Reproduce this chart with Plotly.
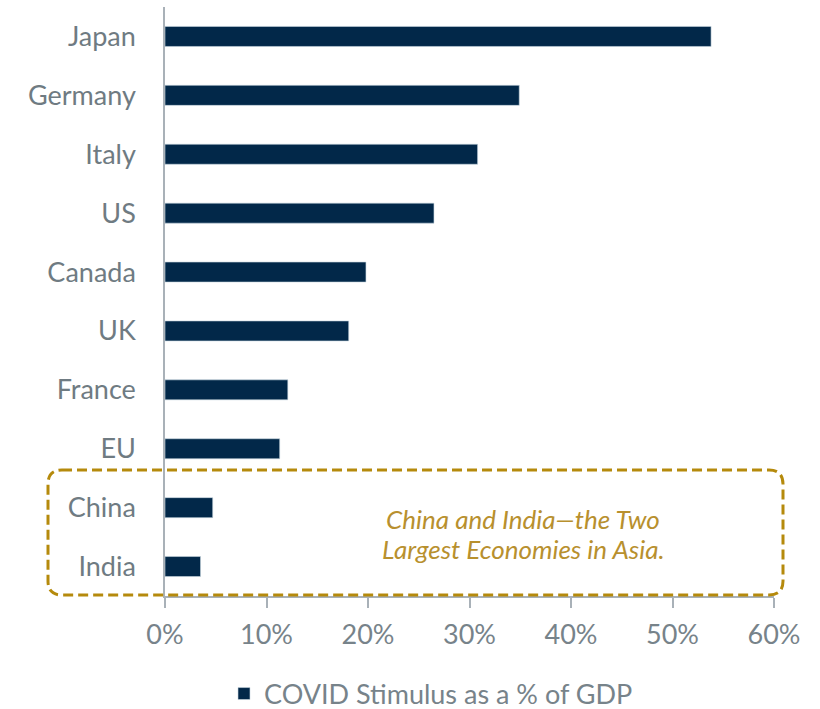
import plotly.graph_objects as go

countries = ["Japan", "Germany", "Italy", "US", "Canada", "UK", "France", "EU", "China", "India"]
stimulus = [53.8, 34.9, 30.8, 26.5, 19.8, 18.1, 12.1, 11.3, 4.7, 3.5]
x_ticks = [0, 10, 20, 30, 40, 50, 60]
x_tick_labels = ["0%", "10%", "20%", "30%", "40%", "50%", "60%"]
series_name = "COVID Stimulus as a % of GDP"
note_lines = ["China and India—the Two", "Largest Economies in Asia."]

W, H = 820, 709
L, R, T, B = 165, 46, 7, 113
pw, ph = W - L - R, H - T - B

def px_to_paper(xp, yp):
    return (xp - L) / pw, (H - B - yp) / ph

fig = go.Figure()
fig.add_trace(go.Bar(
    y=countries, x=stimulus, orientation="h", name=series_name,
    marker=dict(color="#022849", line=dict(color="#c9d6e0", width=0.6)),
    width=0.34, showlegend=True,
))

# rounded dashed box
x0, y0 = px_to_paper(48, 470)
x1, y1 = px_to_paper(783, 595)
rx, ry = 14 / pw, 14 / ph
path = (f"M {x0+rx},{y0} L {x1-rx},{y0} Q {x1},{y0} {x1},{y0-ry} "
        f"L {x1},{y1+ry} Q {x1},{y1} {x1-rx},{y1} "
        f"L {x0+rx},{y1} Q {x0},{y1} {x0},{y1+ry} "
        f"L {x0},{y0-ry} Q {x0},{y0} {x0+rx},{y0} Z")
fig.add_shape(type="path", path=path, xref="paper", yref="paper",
              line=dict(color="#b58a0c", width=3, dash="10px,5px"))

for line, ypx in zip(note_lines, [519, 549]):
    ax, ay = px_to_paper(523, ypx)
    fig.add_annotation(text=f"<i>{line}</i>", xref="paper", yref="paper", x=ax, y=ay,
                       showarrow=False, align="center", yanchor="middle",
                       font=dict(family="Lato", size=26, color="#b8902e"))

fig.update_layout(
    width=W, height=H,
    margin=dict(l=L, r=R, t=T, b=B, pad=0),
    paper_bgcolor="white", plot_bgcolor="white",
    font=dict(family="Lato", size=27, color="#77838a"),
    legend=dict(orientation="h", xref="container", yref="container",
                x=431 / W, y=1 - 694 / H, xanchor="center", yanchor="middle",
                font=dict(size=27, color="#77838a")),
    xaxis=dict(range=[0, 60], tickvals=x_ticks, ticktext=x_tick_labels,
               showgrid=False, zeroline=False, showline=True,
               linecolor="#a9b1b8", linewidth=1.5, ticks="outside",
               ticklen=10, tickcolor="#a9b1b8", tickwidth=1.5,
               ticklabelstandoff=4,
               tickfont=dict(size=27, color="#77838a")),
    yaxis=dict(autorange="reversed", showgrid=False, zeroline=False,
               showline=True, linecolor="#a9b1b8", linewidth=1.5,
               ticks="", ticklabelstandoff=22,
               tickfont=dict(size=27, color="#6f7b82")),
)

fig.write_html("out.html", config={"displayModeBar": False},
               post_script="document.body.style.margin='0';window.dispatchEvent(new Event('resize'));")
